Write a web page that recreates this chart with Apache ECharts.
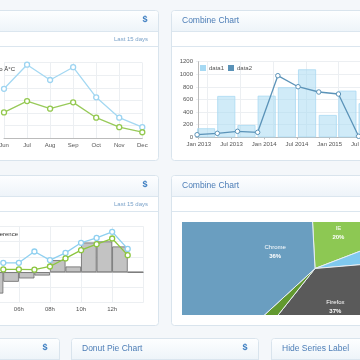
<!DOCTYPE html>
<html><head><meta charset="utf-8">
<script src="https://cdn.jsdelivr.net/npm/echarts@6/dist/echarts.min.js"></script>
<style>
html,body{margin:0;padding:0;background:#f4f7fa;width:360px;height:360px;overflow:hidden;}
#main{position:absolute;left:0;top:0;width:360px;height:360px;}
#pie{position:absolute;left:182px;top:222px;width:178px;height:93px;overflow:hidden;}
</style></head><body>
<div id="main"></div><div id="pie"></div>
<script>
// ---- data ----
const tempMonths = ['Jun','Jul','Aug','Sep','Oct','Nov','Dec'];
const tempBlue  = [19.6, 29.2, 23.1, 28.2, 16.2, 8.1, 4.3];
const tempGreen = [10.2, 14.7, 11.7, 14.2, 8.1, 4.3, 2.3];

const comboMonths = [-0.3, 3.4, 7.1, 10.8, 14.5, 18.2, 22.0, 25.6, 29.3]; // months after Jan 2013
const comboBars = [143, 656, 195, 660, 794, 1079, 354, 740, 540];
const comboLine = [41, 63, 95, 79, 978, 803, 719, 687, 16];
const comboTickMonths = [0, 6, 12, 18, 24, 30];
const comboTickLabels = ['Jan 2013','Jul 2013','Jan 2014','Jul 2014','Jan 2015','Jul 2015'];

const hours = [5, 6, 7, 8, 9, 10, 11, 12, 13];
const hourBlue  = [6.1, 6.1, 13.5, 7.9, 12.6, 19.2, 22.4, 26.4, 15.2];
const hourGreen = [1.8, 1.8, 1.6, 3.7, 9.0, 14.4, 18.3, 22.0, 11.1];
const stepHours = ['04h','05h','06h','07h','08h','09h','10h','11h','12h','13h'];
const stepDiff  = [-14, -6.3, -4.1, -2.2, 7.9, 3.7, 19.4, 20.1, 16.8, 0];

const browsers = ['IE','Safari','Firefox','Opera','Chrome'];
const browserShare = [20, 4.5, 37, 2.5, 36];
const browserColors = ['#8dc853','#80c9ef','#5a5a5a','#62992f','#6a9ec0'];

// ---- styling helpers ----
const FONT = '"Liberation Sans", Arial, sans-serif';
const BORDER = '#d9e4ed';
const TITLE = '#4c7db6';
const graphics = [];
function panel(x, y, w, h, o) {
  graphics.push({type:'rect', z:-10, shape:{x:x+0.5,y:y+0.5,width:w,height:h,r:3},
    style:{fill:'#fff', stroke:BORDER, lineWidth:1}});
  graphics.push({type:'rect', z:-9, shape:{x:x+1,y:y+1,width:w-1,height:20,r:[3,3,0,0]},
    style:{fill:{type:'linear',x:0,y:0,x2:0,y2:1,colorStops:[{offset:0,color:'#fdfeff'},{offset:1,color:'#eef4f9'}]}}});
  graphics.push({type:'line', z:-8, shape:{x1:x+1,y1:y+21.5,x2:x+w,y2:y+21.5}, style:{stroke:'#dbe6ef',lineWidth:1}});
  if (o.sub !== undefined) {
    graphics.push({type:'line', z:-8, shape:{x1:x+1,y1:y+36.5,x2:x+w,y2:y+36.5}, style:{stroke:'#dbe6ef',lineWidth:1}});
  }
  if (o.title) graphics.push({type:'text', z:10, x:x+11, y:y+10.5,
    style:{text:o.title, fill:TITLE, font:'8.5px '+FONT, textVerticalAlign:'middle'}});
  if (o.dollar !== undefined) graphics.push({type:'text', z:10, x:o.dollar, y:y+10,
    style:{text:'$', fill:'#3f7fc2', font:'bold 9px '+FONT, textAlign:'center', textVerticalAlign:'middle'}});
  if (o.sub) graphics.push({type:'text', z:10, x:x+w-10, y:y+29,
    style:{text:o.sub, fill:'#7aa2c9', font:'6px '+FONT, textAlign:'right', textVerticalAlign:'middle'}});
}
panel(-10, 10, 168, 150, {dollar:145, sub:'Last 15 days'});
panel(171, 10, 210, 150, {title:'Combine Chart', sub:''});
panel(-10, 175, 168, 150, {dollar:145, sub:'Last 15 days'});
panel(171, 175, 210, 150, {title:'Combine Chart', sub:''});
panel(-10, 338, 69, 40, {dollar:45});
panel(71, 338, 187, 40, {title:'Donut Pie Chart', dollar:245});
panel(271, 338, 110, 40, {title:'Hide Series Label'});
graphics.push({type:'text', z:10, x:15, y:69, style:{text:'oo Â°C', fill:'#333', font:'6px '+FONT, textAlign:'right', textVerticalAlign:'middle'}});
graphics.push({type:'text', z:10, x:18, y:234, style:{text:'Difference', fill:'#333', font:'6px '+FONT, textAlign:'right', textVerticalAlign:'middle'}});

const lbl = {fontSize:6, color:'#555', fontFamily:FONT};
const split = {show:true, lineStyle:{color:'#eceff2', width:1}};

const main = echarts.init(document.getElementById('main'));
main.setOption({
  animation:false,
  textStyle:{fontFamily:FONT},
  graphic:{elements:graphics},
  legend:{z:20, data:[
      {name:'data1', itemStyle:{color:'#a6d9f3', borderWidth:0}},
      {name:'data2', itemStyle:{color:'#5b93b8', borderColor:'#5b93b8', borderWidth:0}}],
    left:200, top:65, itemWidth:6, itemHeight:6, itemGap:4,
    icon:'rect', textStyle:{fontSize:6, color:'#555', padding:[0,0,0,-2]}, padding:0},
  grid:[
    {left:4, top:62.7, width:138.3, height:75.3, outerBoundsMode:'none', containLabel:false},
    {left:196, top:61.7, width:221, height:75.6, outerBoundsMode:'none', containLabel:false},
    {left:-12.25, top:226.3, width:155.5, height:76.4, outerBoundsMode:'none', containLabel:false}
  ],
  xAxis:[
    {gridIndex:0, type:'category', data:tempMonths, boundaryGap:false,
      axisLine:{lineStyle:{color:'#bbb'}}, axisTick:{show:false},
      axisLabel:Object.assign({margin:4}, lbl), splitLine:split},
    {gridIndex:1, type:'value', min:-0.5, max:40,
      axisLine:{lineStyle:{color:'#bbb'}},
      axisTick:{customValues:comboTickMonths, length:2, lineStyle:{color:'#bbb'}},
      axisLabel:Object.assign({margin:4, customValues:comboTickMonths,
        formatter:v => comboTickLabels[comboTickMonths.indexOf(v)] || ''}, lbl),
      splitLine:{show:false}},
    {gridIndex:2, type:'value', min:4, max:14, interval:2,
      axisLine:{lineStyle:{color:'#bbb'}}, axisTick:{show:false},
      axisLabel:Object.assign({margin:4, showMaxLabel:false, showMinLabel:false,
        formatter:v => (v < 10 ? '0' : '') + v + 'h'}, lbl),
      splitLine:split},
    {gridIndex:2, type:'category', data:stepHours, boundaryGap:true, show:false}
  ],
  yAxis:[
    {gridIndex:0, type:'value', min:0, max:30, interval:5, axisLabel:{show:false},
      axisLine:{show:false}, axisTick:{show:false}, splitLine:split},
    {gridIndex:1, type:'value', min:0, max:1200, interval:200,
      axisLine:{show:true, lineStyle:{color:'#bbb'}}, axisTick:{show:false},
      axisLabel:Object.assign({margin:3, formatter:v => String(v)}, lbl), splitLine:split},
    {gridIndex:2, type:'value', min:-20, max:30, interval:10, axisLabel:{show:false},
      axisLine:{show:false}, axisTick:{show:false}, splitLine:split}
  ],
  series:[
    {type:'line', xAxisIndex:0, yAxisIndex:0, data:tempBlue, symbol:'circle', symbolSize:5,
      lineStyle:{color:'#a4d8f2', width:1.3}, itemStyle:{color:'#fff', borderColor:'#9dd4f1', borderWidth:1.3}},
    {type:'line', xAxisIndex:0, yAxisIndex:0, data:tempGreen, symbol:'circle', symbolSize:5,
      lineStyle:{color:'#98ca5a', width:1.3}, itemStyle:{color:'#fff', borderColor:'#93c84f', borderWidth:1.3}},
    {name:'spacer', type:'bar', xAxisIndex:1, yAxisIndex:1, data:comboMonths.map(m => [m, null]), barWidth:18, barGap:'0%'},
    {name:'data1', type:'bar', xAxisIndex:1, yAxisIndex:1, data:comboMonths.map((m,i) => [m, comboBars[i]]),
      barWidth:18, barGap:'0%', itemStyle:{color:'rgba(170,218,243,0.55)', borderColor:'#a9d9f2', borderWidth:0.8},
      markLine:{silent:true, z:0, symbol:'none', label:{show:false}, lineStyle:{color:'#eceff2', type:'solid', width:1},
        data:comboTickMonths.map(m => ({xAxis:m}))}},
    {name:'data2', type:'line', xAxisIndex:1, yAxisIndex:1, data:comboMonths.map((m,i) => [m, comboLine[i]]),
      symbol:'circle', symbolSize:4.5, color:'#5b93b8',
      lineStyle:{color:'#5b93b8', width:1.3}, itemStyle:{color:'#fff', borderColor:'#5b93b8', borderWidth:1}},
    {type:'bar', xAxisIndex:3, yAxisIndex:2, data:stepDiff, barWidth:'100%',
      itemStyle:{color:'#c3c3c3', borderColor:'#6a6a6a', borderWidth:0.8}},
    {type:'line', xAxisIndex:2, yAxisIndex:2, data:hours.map((h,i) => [h, hourBlue[i]]), symbol:'circle', symbolSize:5,
      lineStyle:{color:'#8fd0f0', width:1.3}, itemStyle:{color:'#fff', borderColor:'#8fd0f0', borderWidth:1.3}},
    {type:'line', xAxisIndex:2, yAxisIndex:2, data:hours.map((h,i) => [h, hourGreen[i]]), symbol:'circle', symbolSize:5,
      lineStyle:{color:'#8cc63f', width:1.3}, itemStyle:{color:'#fff', borderColor:'#8cc63f', borderWidth:1.3}}
  ]
});

const pie = echarts.init(document.getElementById('pie'));
const pieData = browsers.map((n,i) => ({name:n, value:browserShare[i], itemStyle:{color:browserColors[i]}}));
pie.setOption({
  animation:false,
  series:[
    {type:'pie', center:[133,46.5], radius:260, startAngle:93, silent:true, avoidLabelOverlap:false,
      label:{show:false}, labelLine:{show:false}, itemStyle:{borderColor:'#e8eef3', borderWidth:1}, data:pieData},
    {type:'pie', center:[133,46.5], radius:80, startAngle:93, silent:true, avoidLabelOverlap:false,
      labelLine:{show:false},
      label:{show:true, position:'inside', color:'#fff', fontFamily:FONT, lineHeight:9,
        formatter:p => p.percent >= 10 ? '{a|' + p.name + '}\n{b|' + Math.round(p.percent) + '%}' : '',
        rich:{a:{fontSize:6, color:'#fff', lineHeight:9, fontFamily:FONT}, b:{fontSize:6, fontWeight:'bold', color:'#fff', lineHeight:9, fontFamily:FONT}}},
      itemStyle:{color:'rgba(0,0,0,0)'},
      data:browsers.map((n,i) => ({name:n, value:browserShare[i]}))}
  ]
});
</script>
</body></html>
